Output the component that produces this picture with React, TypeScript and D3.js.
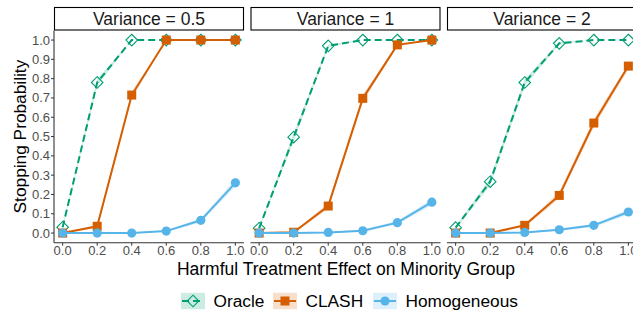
import React from "react";
import * as d3 from "d3";

const xs = [0, 0.2, 0.4, 0.6, 0.8, 1.0];
const panels = ["Variance = 0.5", "Variance = 1", "Variance = 2"];
const oracle = [
  [0.03, 0.78, 1.0, 1.0, 1.0, 1.0],
  [0.025, 0.497, 0.97, 1.0, 1.0, 1.0],
  [0.028, 0.266, 0.78, 0.983, 1.0, 1.0],
];
const clash = [
  [0.0, 0.035, 0.715, 1.0, 1.0, 1.0],
  [0.0, 0.004, 0.14, 0.698, 0.975, 1.0],
  [0.0, 0.0, 0.04, 0.195, 0.57, 0.865],
];
const homog = [
  [0.0, 0.0, 0.0, 0.01, 0.066, 0.26],
  [0.0, 0.0, 0.003, 0.012, 0.054, 0.16],
  [0.0, 0.0, 0.003, 0.017, 0.04, 0.109],
];
const yTicks = [0, 0.1, 0.2, 0.3, 0.4, 0.5, 0.6, 0.7, 0.8, 0.9, 1.0];
const seriesNames = ["Oracle", "CLASH", "Homogeneous"];
const colors = ["#009E73", "#D55E00", "#56B4E9"];
const nSim = 2000;

const FONT = "'Liberation Sans', Arial, Helvetica, sans-serif";
const panelX = [54, 250.5, 447];
const panelW = 190;
const plotTop = 30.4;
const plotBottom = 242.7;

function Marker({ k, x, y }: { k: number; x: number; y: number }) {
  if (k === 0) {
    const r = 5.8;
    return (
      <path
        d={`M${x},${y - r}L${x + r},${y}L${x},${y + r}L${x - r},${y}Z`}
        fill="none"
        stroke={colors[0]}
        strokeWidth={1.1}
      />
    );
  }
  if (k === 1) {
    const s = 4.5;
    return <rect x={x - s} y={y - s} width={2 * s} height={2 * s} fill={colors[1]} />;
  }
  return <circle cx={x} cy={y} r={4.6} fill={colors[2]} />;
}

export default function App() {
  const y = d3.scaleLinear().domain([-0.05, 1.05]).range([plotBottom, plotTop]);
  const all = [oracle, clash, homog];

  return (
    <svg
      width={633}
      height={311}
      style={{ position: "absolute", left: 0, top: 0, display: "block", background: "#fff" }}
      fontFamily={FONT}
    >
      <rect width={633} height={311} fill="#fff" />
      {panels.map((title, pi) => {
        const x = d3.scaleLinear().domain([-0.05, 1.05]).range([panelX[pi], panelX[pi] + panelW]);
        const line = d3
          .line<number>()
          .x((_, i) => x(xs[i]))
          .y((v) => y(v));
        const area = d3
          .area<number>()
          .x((_, i) => x(xs[i]))
          .y0((v) => y(Math.max(0, v - 1.96 * Math.sqrt((v * (1 - v)) / nSim))))
          .y1((v) => y(Math.min(1, v + 1.96 * Math.sqrt((v * (1 - v)) / nSim))));
        return (
          <g key={pi}>
            {/* strip */}
            <rect
              x={panelX[pi] + 0.5}
              y={7.5}
              width={panelW - 1}
              height={22.5}
              fill="#fff"
              stroke="#000"
              strokeWidth={1.1}
            />
            <text
              x={panelX[pi] + panelW / 2}
              y={25}
              textAnchor="middle"
              fontSize={17.5}
              fill="#1A1A1A"
            >
              {title}
            </text>
            {/* x axis */}
            <line x1={panelX[pi]} x2={panelX[pi] + panelW} y1={plotBottom} y2={plotBottom} stroke="#333" strokeWidth={1.1} />
            {xs.map((t) => (
              <g key={t}>
                <line x1={x(t)} x2={x(t)} y1={plotBottom} y2={plotBottom + 3} stroke="#333" strokeWidth={1} />
                <text
                  x={x(t)}
                  y={255}
                  textAnchor="middle"
                  fontSize={13}
                  fill="#4D4D4D"
                >
                  {t.toFixed(1)}
                </text>
              </g>
            ))}
            {/* ribbons */}
            {all.map((s, k) => (
              <path key={"r" + k} d={area(s[pi]) || ""} fill={colors[k]} fillOpacity={0.2} />
            ))}
            {/* lines and points */}
            {all.map((s, k) => (
              <g key={"l" + k}>
                <path
                  d={line(s[pi]) || ""}
                  fill="none"
                  stroke={colors[k]}
                  strokeWidth={2}
                  strokeDasharray={k === 0 ? "7,4" : undefined}
                />
                {s[pi].map((v, i) => (
                  <Marker key={i} k={k} x={x(xs[i])} y={y(v)} />
                ))}
              </g>
            ))}
          </g>
        );
      })}
      {/* y axis */}
      <line x1={panelX[0]} x2={panelX[0]} y1={plotTop} y2={plotBottom} stroke="#333" strokeWidth={1.1} />
      {yTicks.map((t) => (
        <g key={t}>
          <line x1={panelX[0] - 3} x2={panelX[0]} y1={y(t)} y2={y(t)} stroke="#333" strokeWidth={1} />
          <text
            x={panelX[0] - 4}
            y={y(t)}
            textAnchor="end"
            dominantBaseline="central"
            fontSize={13}
            fill="#4D4D4D"
          >
            {t.toFixed(1)}
          </text>
        </g>
      ))}
      <text
        transform={`translate(19.5,${(plotTop + plotBottom) / 2}) rotate(-90)`}
        textAnchor="middle"
        dominantBaseline="central"
        fontSize={17.3}
        fill="#000"
      >
        Stopping Probability
      </text>
      <text x={346} y={275} textAnchor="middle" fontSize={17.5} fill="#000">
        Harmful Treatment Effect on Minority Group
      </text>
      {/* legend */}
      {seriesNames.map((name, k) => {
        const kx = [181, 273, 373][k];
        const cy = 301;
        return (
          <g key={name}>
            <rect x={kx} y={cy - 8.2} width={24} height={16.4} fill={colors[k]} fillOpacity={0.2} />
            <line
              x1={kx + 1}
              x2={kx + 23}
              y1={cy}
              y2={cy}
              stroke={colors[k]}
              strokeWidth={2}
              strokeDasharray={k === 0 ? "7,4" : undefined}
            />
            <Marker k={k} x={kx + 12} y={cy} />
            <text x={kx + 32.5} y={306.5} fontSize={17.3} fill="#000">
              {name}
            </text>
          </g>
        );
      })}
    </svg>
  );
}
